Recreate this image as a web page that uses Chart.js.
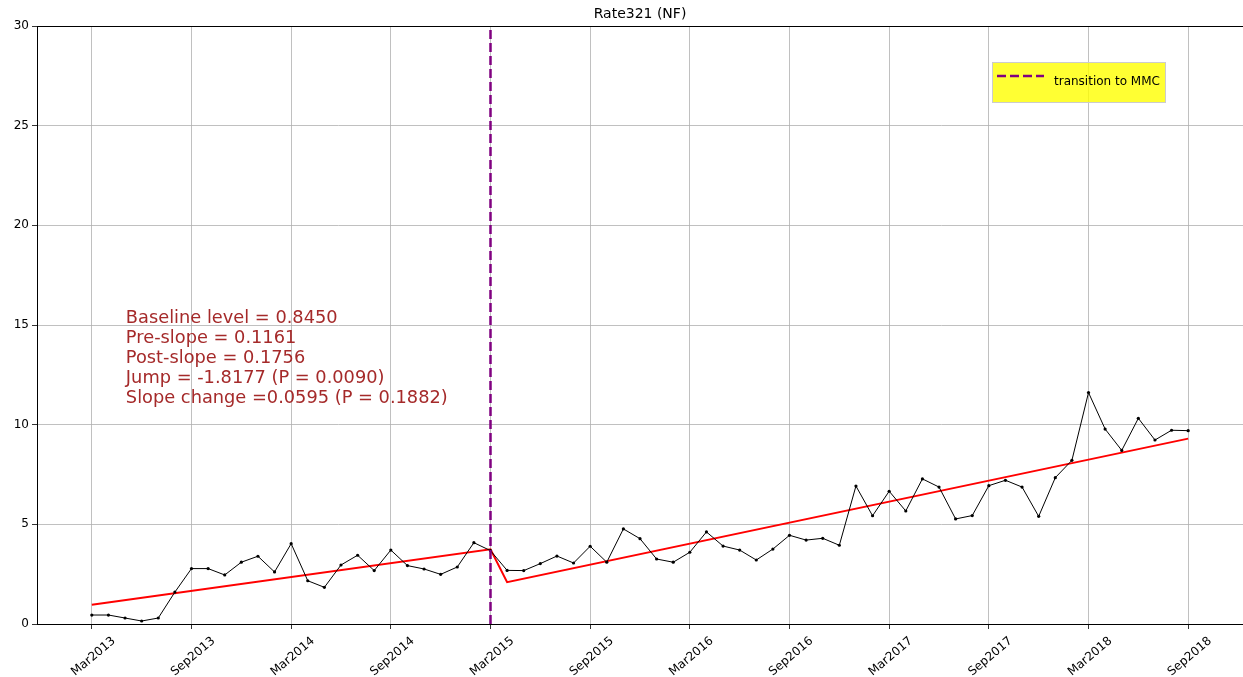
<!DOCTYPE html>
<html>
<head>
<meta charset="utf-8">
<script src="https://cdn.jsdelivr.net/npm/chart.js@4"></script>
<style>
  body { margin: 0; background: #fff; overflow: hidden; }
  canvas { display: block; }
</style>
</head>
<body>
<canvas id="rateChart" width="1243" height="677"></canvas>
<script>
// monthly observations, Mar2013 .. Sep2018 (index 0 = Mar2013)
const rateValues = [
  0.45, 0.45, 0.30, 0.15, 0.30, 1.60, 2.78, 2.78, 2.46, 3.10, 3.40, 2.61,
  4.03, 2.17, 1.84, 2.96, 3.45, 2.68, 3.71, 2.93, 2.76, 2.49, 2.86, 4.08,
  3.68, 2.69, 2.68, 3.03, 3.41, 3.06, 3.90, 3.10, 4.77, 4.28, 3.26, 3.10,
  3.60, 4.62, 3.91, 3.71, 3.21, 3.76, 4.45, 4.21, 4.30, 3.95, 6.92, 5.43,
  6.66, 5.67, 7.28, 6.87, 5.27, 5.44, 6.94, 7.21, 6.87, 5.40, 7.34, 8.21,
  11.61, 9.78, 8.71, 10.32, 9.23, 9.72, 9.70
];

// fitted segmented regression (month index, value)
const fitMonths = [0, 24, 25, 66];
const fitValues = [0.96, 3.75, 2.10, 9.30];

const transitionMonth = 24;

const tickMonths = [0, 6, 12, 18, 24, 30, 36, 42, 48, 54, 60, 66];
const tickLabels = ["Mar2013", "Sep2013", "Mar2014", "Sep2014", "Mar2015", "Sep2015",
                    "Mar2016", "Sep2016", "Mar2017", "Sep2017", "Mar2018", "Sep2018"];

const statLines = [
  "Baseline level = 0.8450",
  "Pre-slope = 0.1161",
  "Post-slope = 0.1756",
  "Jump = -1.8177 (P = 0.0090)",
  "Slope change =0.0595 (P = 0.1882)"
];

const FONT = "'DejaVu Sans', sans-serif";

// frame, title, stats text and legend box
const extras = {
  id: "extras",
  afterDraw(chart) {
    const ctx = chart.ctx;
    const a = chart.chartArea;
    const x = chart.scales.x, y = chart.scales.y;
    ctx.save();

    ctx.strokeStyle = "#000";
    ctx.lineWidth = 1;
    ctx.strokeRect(a.left + 0.5, a.top + 0.5, a.right - a.left, a.bottom - a.top);

    ctx.fillStyle = "#000";
    ctx.font = "14px " + FONT;
    ctx.textAlign = "center";
    ctx.textBaseline = "middle";
    ctx.fillText("Rate321 (NF)", (a.left + a.right) / 2, 14);

    ctx.fillStyle = "#a52a2a";
    ctx.font = "17.8px " + FONT;
    ctx.textAlign = "left";
    const tx = x.getPixelForValue(2.05);
    const ty = y.getPixelForValue(15.35);
    statLines.forEach((s, i) => ctx.fillText(s, tx, ty + i * 20));

    // legend
    const lx = 992, ly = 62, lw = 173, lh = 40;
    ctx.globalAlpha = 0.8;
    ctx.fillStyle = "#ffff00";
    ctx.fillRect(lx, ly, lw, lh);
    ctx.globalAlpha = 1;
    ctx.strokeStyle = "#cccccc";
    ctx.lineWidth = 1;
    ctx.strokeRect(lx + 0.5, ly + 0.5, lw, lh);
    ctx.strokeStyle = "#800080";
    ctx.lineWidth = 2.5;
    ctx.setLineDash([9, 4]);
    ctx.beginPath();
    ctx.moveTo(lx + 5, ly + 14);
    ctx.lineTo(lx + 52, ly + 14);
    ctx.stroke();
    ctx.setLineDash([]);
    ctx.fillStyle = "#000";
    ctx.font = "12px " + FONT;
    ctx.fillText("transition to MMC", lx + 62, ly + 20);

    ctx.restore();
  }
};

new Chart(document.getElementById("rateChart").getContext("2d"), {
  type: "line",
  data: {
    datasets: [
      {
        label: "transition to MMC",
        data: [{ x: transitionMonth, y: 0 }, { x: transitionMonth, y: 30 }],
        borderColor: "#800080",
        borderWidth: 2.5,
        borderDash: [9, 4],
        pointRadius: 0,
        order: 0
      },
      {
        label: "Rate321",
        data: rateValues.map((v, i) => ({ x: i, y: v })),
        borderColor: "#000",
        backgroundColor: "#000",
        borderWidth: 1,
        pointRadius: 1.6,
        pointBorderWidth: 0,
        tension: 0,
        order: 1
      },
      {
        label: "fit",
        data: fitMonths.map((m, i) => ({ x: m, y: fitValues[i] })),
        borderColor: "#ff0000",
        borderWidth: 2,
        pointRadius: 0,
        tension: 0,
        order: 2
      }
    ]
  },
  options: {
    responsive: false,
    animation: false,
    layout: { autoPadding: false, padding: { top: 26, right: 0, left: 0, bottom: 0 } },
    plugins: {
      legend: { display: false },
      tooltip: { enabled: false },
      title: { display: false }
    },
    scales: {
      x: {
        type: "linear",
        min: -3.3,
        max: 69.3,
        afterBuildTicks: scale => { scale.ticks = tickMonths.map(v => ({ value: v })); },
        afterFit: scale => {
          scale.height = 53;
          scale.paddingLeft = 0;
          scale.paddingRight = 0;
        },
        grid: { color: "#b0b0b0", lineWidth: 0.8, tickLength: 5, tickColor: "#000" },
        border: { display: false },
        ticks: {
          callback: v => tickLabels[tickMonths.indexOf(v)],
          maxRotation: 40,
          minRotation: 40,
          autoSkip: false,
          labelOffset: 22,
          color: "#000",
          padding: 5,
          font: { family: FONT, size: 12 }
        }
      },
      y: {
        min: 0,
        max: 30,
        afterFit: scale => { scale.width = 37; },
        grid: { color: "#b0b0b0", lineWidth: 0.8, tickLength: 5, tickColor: "#000" },
        border: { display: false },
        ticks: {
          stepSize: 5,
          color: "#000",
          padding: 3,
          font: { family: FONT, size: 12 }
        }
      }
    }
  },
  plugins: [extras]
});
</script>
</body>
</html>
